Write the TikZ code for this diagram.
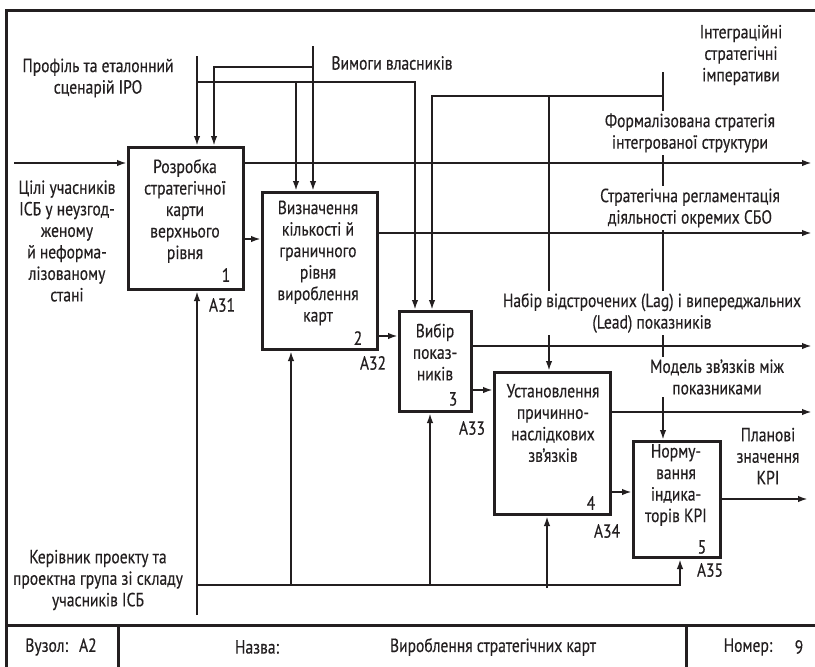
\documentclass[tikz,border=0pt]{standalone}
\usepackage{fontspec}
\setmainfont{PT Sans}[FakeStretch=0.82,FakeBold=0.35]
\usetikzlibrary{arrows.meta}
\definecolor{ink}{HTML}{231F20}
\begin{document}
\begin{tikzpicture}[x=1pt,y=-1pt,
  every node/.style={font=\fontsize{19}{21.5}\selectfont, text=ink, inner sep=0pt},
  box/.style={draw=ink, line width=3pt, rectangle, inner sep=0pt, anchor=north west},
  flow/.style={draw=ink, line width=2pt},
  arr/.style={flow, -{Latex[length=10pt,width=6.5pt]}},
  txt/.style={align=center},
  tag/.style={fill=white, align=center, inner xsep=3pt, inner ysep=2.5pt},
  frame/.style={draw=ink, line width=3pt}]
\clip (0,0) rectangle (815,667);
\useasboundingbox (0,0) rectangle (815,667);

% outer frame and title block
\draw[frame] (6.5,10.5) rectangle (840,690);
\draw[frame] (6.5,625) -- (840,625);
\draw[frame] (118,625) -- (118,690);
\draw[frame] (686,625) -- (686,690);
\node (node) at (61,647) {Вузол:\hspace{11pt}A2};
\node (namelbl) at (257,647) {Назва:};
\node (title) at (493,647) {Вироблення стратегічних карт};
\node (numlbl) at (748,647) {Номер:};
\node (num) at (799,647) {9};

% activity boxes
\node[box, minimum width=115pt, minimum height=142pt] (b1) at (127,146) {};
\node[box, minimum width=115pt, minimum height=157pt] (b2) at (261,191) {};
\node[box, minimum width=72pt,  minimum height=100pt] (b3) at (398,310) {};
\node[box, minimum width=116pt, minimum height=142pt] (b4) at (493,371) {};
\node[box, minimum width=87pt,  minimum height=116pt] (b5) at (632,440) {};

\node[txt] (t1) at (185,211) {Розробка\\стратегічної\\карти\\верхнього\\рівня};
\node[txt] (t2) at (318,263) {Визначення\\кількості й\\граничного\\рівня\\вироблення\\карт};
\node[txt] (t3) at (435,352) {Вибір\\показ-\\ників};
\node[txt] (t4) at (553,423) {Установлення\\причинно-\\наслідкових\\зв’язків};
\node[txt] (t5) at (676,485) {Норму-\\вання\\індика-\\торів KPI};

\node (n1) at (226,275) {1};
\node (n2) at (358,338) {2};
\node (n3) at (453,399) {3};
\node (n4) at (591,503) {4};
\node (n5) at (702,547) {5};

\node (a1) at (222,305) {A31};
\node (a2) at (373,363) {A32};
\node (a3) at (472,428) {A33};
\node (a4) at (607,531) {A34};
\node (a5) at (710,570) {A35};

% input
\coordinate (in1) at (14,163);
\draw[arr] (in1) -- (in1 -| b1.west);

% box-to-box flows
\coordinate (l12) at (0,239);
\coordinate (l23) at (0,336);
\coordinate (l34) at (0,390);
\coordinate (l45) at (0,492);
\draw[arr] (b1.east |- l12) -- (b2.west |- l12);
\draw[arr] (b2.east |- l23) -- (b3.west |- l23);
\draw[arr] (b3.east |- l34) -- (b4.west |- l34);
\draw[arr] (b4.east |- l45) -- (b5.west |- l45);

% outputs
\coordinate (o1) at (812,163);
\coordinate (o2) at (812,233);
\coordinate (o3) at (812,346);
\coordinate (o4) at (812,412);
\coordinate (o5) at (808,499);
\draw[arr] (b1.east |- o1) -- (o1);
\draw[arr] (b2.east |- o2) -- (o2);
\draw[arr] (b3.east |- o3) -- (o3);
\draw[arr] (b4.east |- o4) -- (o4);
\draw[arr] (b5.east |- o5) -- (o5);

% controls
\coordinate (c1) at (197,56);
\coordinate (c1j) at (197,82);
\coordinate (c1b) at (296,82);
\coordinate (c1r) at (415,82);
\draw[arr] (c1) -- (c1 |- b1.north);
\draw[arr] (c1j) -- (c1r) -- (c1r |- b3.north);
\draw[arr] (c1b) -- (c1b |- b2.north);

\coordinate (c2) at (313,46);
\coordinate (c2l) at (214,67);
\draw[arr] (c2) -- (c2 |- b2.north);
\draw[arr] (c2 |- c2l) -- (c2l) -- (c2l |- b1.north);

\coordinate (c3) at (663,72);
\coordinate (c3j) at (663,96);
\coordinate (c3m) at (549,96);
\coordinate (c3l) at (432,96);
\draw[arr] (c3) -- (c3 |- b5.north);
\draw[arr] (c3j) -- (c3l) -- (c3l |- b3.north);
\draw[arr] (c3m) -- (c3m |- b4.north);

% mechanisms
\coordinate (m1) at (197,615);
\coordinate (m1j) at (197,585);
\coordinate (m1r) at (680,585);
\coordinate (m2) at (291,585);
\coordinate (m3) at (430,585);
\coordinate (m4) at (547,588);
\draw[arr] (m1) -- (m1 |- b1.south);
\draw[arr] (m1j) -- (m1r) -- (m1r |- b5.south);
\draw[arr] (m2) -- (m2 |- b2.south);
\draw[arr] (m3) -- (m3 |- b3.south);
\draw[arr] (m4) -- (m4 |- b4.south);

% arrow labels
\node[tag] (lin) at (67,241) {Цілі учасників\\ІСБ у неузгод-\\женому\\й неформа-\\лізованому\\стані};
\node[tag] (lc1) at (98,78) {Профіль та еталонний\\сценарій IPO};
\node[tag] (lc2) at (392,63) {Вимоги власників};
\node[tag] (lc3) at (741,55) {Інтеграційні\\стратегічні\\імперативи};
\node[tag] (lo1) at (690,133) {Формалізована стратегія\\інтегрованої структури};
\node[tag] (lo2) at (690,208) {Стратегічна регламентація\\діяльності окремих СБО};
\node[tag] (lo3) at (652,313) {Набір відстрочених (Lag) і випереджальних\\(Lead) показників};
\node[tag] (lo4) at (717,377) {Модель зв'язків між\\показниками};
\node[tag] (lo5) at (768,456) {Планові\\значення\\KPI};
\node[tag] (lm1) at (98,580) {Керівник проекту та\\проектна група зі складу\\учасників ІСБ};
\end{tikzpicture}
\end{document}
